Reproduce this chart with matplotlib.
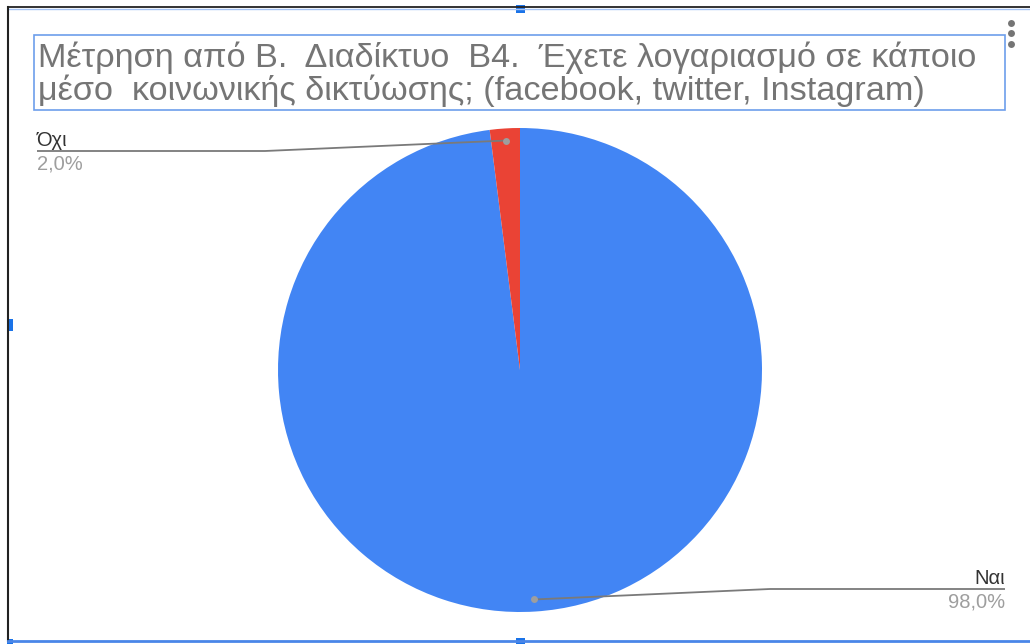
import numpy as np
import matplotlib.pyplot as plt
from matplotlib.patches import Rectangle

plt.rcParams['font.family'] = ['Liberation Sans', 'DejaVu Sans']

# Survey answers and their shares (%)
labels = ["Ναι", "Όχι"]
values = [98.0, 2.0]
colors = ["#4285F4", "#EA4335"]
title_lines = ["Μέτρηση από Β.  Διαδίκτυο  Β4.  Έχετε λογαριασμό σε κάποιο",
               "μέσο  κοινωνικής δικτύωσης; (facebook, twitter, Instagram)"]

W, H = 1030, 644
fig = plt.figure(figsize=(W / 100, H / 100), dpi=100)
ax = fig.add_axes([0, 0, 1, 1])

# pie, clockwise from 12 o'clock
cx, cy, r = 520, H - 370, 242
wedges, _ = ax.pie(values, colors=colors, startangle=90, counterclock=False,
                   center=(cx, cy), radius=r, frame=True,
                   wedgeprops=dict(linewidth=0))
ax.set_xlim(0, W)
ax.set_ylim(0, H)
ax.axis("off")

# leader lines: dot inside slice -> elbow -> horizontal line under label
label_pos = {
    "Όχι": dict(elbow=(265, H - 151), end=(37, H - 151), ha="left"),
    "Ναι": dict(elbow=(770, H - 589), end=(1005, H - 589), ha="right"),
}
for w, lab, val in zip(wedges, labels, values):
    mid = np.deg2rad((w.theta1 + w.theta2) / 2)
    px = cx + 0.95 * r * np.cos(mid)
    py = cy + 0.95 * r * np.sin(mid)
    lp = label_pos[lab]
    ex, ey = lp["elbow"]
    tx, ty = lp["end"]
    ax.plot([px, ex, tx], [py, ey, ty], color="#7a7a7a", lw=1.3,
            solid_capstyle="butt", zorder=3)
    ax.plot(px, py, "o", color="#9e9e9e", ms=5, mec="none", zorder=4)
    ax.text(tx, ty + 5, lab, ha=lp["ha"], va="baseline", fontsize=14.5,
            color="#333333")
    ax.text(tx, ty - 18, f"{val:.1f}%".replace(".", ","), ha=lp["ha"],
            va="baseline", fontsize=14.5, color="#9e9e9e")

# title in its selection box
ax.add_patch(Rectangle((34, H - 110), 971, 75, fill=False,
                       edgecolor="#6d9eeb", lw=1.2))
for i, line in enumerate(title_lines):
    ax.text(38, H - 67 - 33 * i, line, ha="left", va="baseline",
            fontsize=24.7, color="#757575")

# chart frame and selection handles
ax.plot([8, W], [H - 7, H - 7], color="#222222", lw=1.3)
ax.plot([8, W], [H - 8.5, H - 8.5], color="#a4c2f4", lw=1)
ax.plot([8, 8], [H - 7, H - 641], color="#222222", lw=1.5)
ax.plot([8, W], [H - 641, H - 641], color="#4a86e8", lw=2)
for (hx, hy, hw, hh) in [(516, H - 13, 9, 8), (7, H - 331, 6, 12),
                         (516, H - 644, 9, 6), (7, H - 644, 6, 5)]:
    ax.add_patch(Rectangle((hx, hy), hw, hh, color="#1a73e8", lw=0))
for dy in (23, 33, 44):
    ax.plot(1011, H - dy, "o", color="#757575", ms=5, mec="none")

fig.savefig("out.png", dpi=100)
